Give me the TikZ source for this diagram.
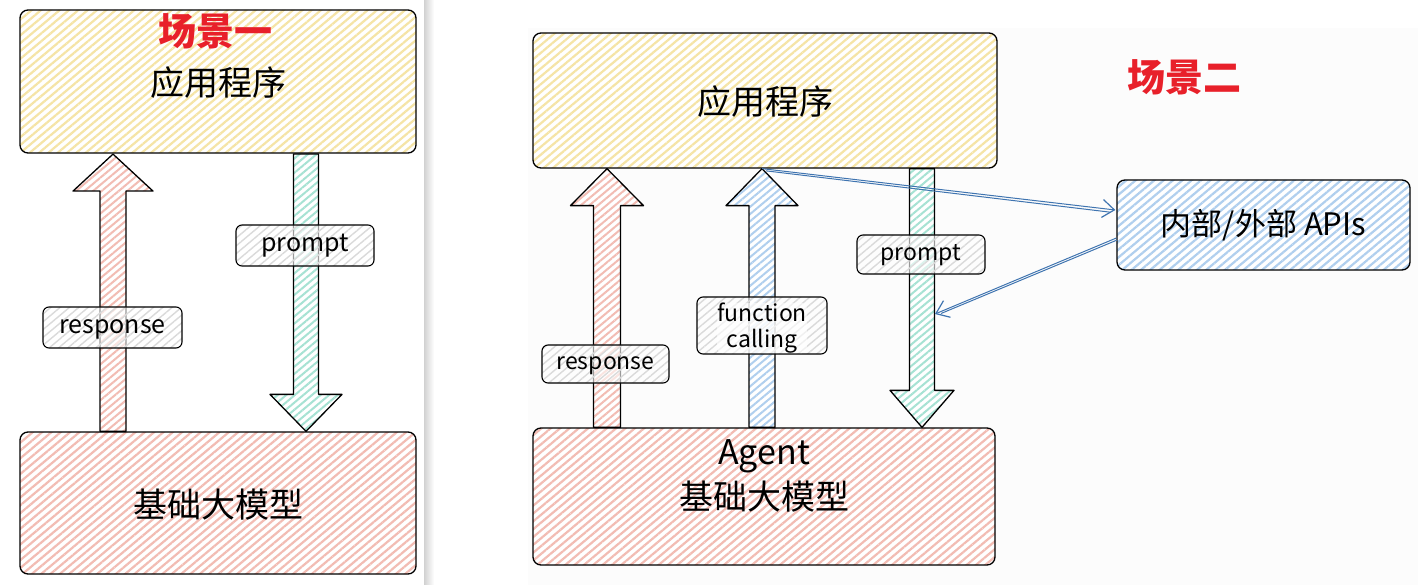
\documentclass[tikz,border=0pt]{standalone}
\usepackage{fontspec}
\setmainfont{Noto Sans CJK SC}
\usetikzlibrary{patterns.meta,arrows.meta,calc}
\definecolor{hyel}{HTML}{F5E4A6}
\definecolor{hred}{HTML}{F2BCB3}
\definecolor{hteal}{HTML}{A6E2D3}
\definecolor{hblue}{HTML}{B0CFEE}
\definecolor{hgrey}{HTML}{DADADA}
\definecolor{cblue}{HTML}{3F74B0}
\definecolor{tred}{HTML}{E8202A}
\newcommand\blkup[6]{%
  \path[blk,#4] let \p1=(#2.south), \p2=(#3.north) in
    (#1-#5,\y2) -- (#1-#5,\y1-37pt) -- (#1-#6,\y1-37pt) -- (#1,\y1)
    -- (#1+#6,\y1-37pt) -- (#1+#5,\y1-37pt) -- (#1+#5,\y2) -- cycle;}
\newcommand\blkdown[6]{%
  \path[blk,#4] let \p1=(#2.south), \p2=(#3.north) in
    (#1-#5,\y1) -- (#1-#5,\y2+37pt) -- (#1-#6,\y2+37pt) -- (#1,\y2)
    -- (#1+#6,\y2+37pt) -- (#1+#5,\y2+37pt) -- (#1+#5,\y1) -- cycle;}
\begin{document}
\begin{tikzpicture}[x=1pt,y=-1pt,
  box/.style={draw=black, line width=1.3pt, rounded corners=8pt, inner sep=0pt,
    preaction={fill=white}, pattern={Lines[angle=40,distance=6pt,line width=2.2pt]}},
  yelbox/.style={box, pattern color=hyel},
  redbox/.style={box, pattern color=hred},
  bluebox/.style={box, pattern color=hblue},
  bigtxt/.style={font=\fontsize{34}{38}\selectfont},
  title/.style={text=tred, font=\fontsize{38}{40}\selectfont\bfseries},
  lab/.style={draw=black, line width=1.1pt, rounded corners=6pt, inner sep=0pt,
    preaction={fill=white, fill opacity=0.6},
    pattern={Lines[angle=40,distance=6pt,line width=1.4pt]}, pattern color=hgrey},
  labL/.style={lab, font=\fontsize{25}{27}\selectfont, text height=18pt, text depth=5.5pt},
  labR/.style={lab, font=\fontsize{23}{26}\selectfont, align=center},
  labS/.style={labR, text height=16.5pt, text depth=5pt},
  blk/.style={draw=black, line width=1.3pt, line join=round,
    preaction={fill=white}, pattern={Lines[angle=40,distance=5.5pt,line width=2pt]}},
  conn/.style={draw=cblue, line width=1pt},
  tip/.style={-{Straight Barb[length=12pt,width=18pt,line width=1.2pt]}}
]
\useasboundingbox (0,0) rectangle (1422,585);
\fill[white] (0,0) rectangle (1422,585);
\fill[black!1.2] (528,28) rectangle (1418,585);
\shade[left color=black!18, right color=white] (424,0) rectangle (434,585);

% ---------- scene 1 ----------
\node[yelbox, minimum width=396pt, minimum height=143pt] (app1) at (218,81.5) {};
\node[bigtxt] (app1t) at (218,83) {应用程序};
\node[redbox, minimum width=396pt, minimum height=142pt] (llm1) at (218,503) {};
\node[bigtxt] (llm1t) at (218,505) {基础大模型};
\node[title] (t1) at (215,31) {场景一};

\blkup{113}{app1}{llm1}{pattern color=hred}{13}{40}
\blkdown{306}{app1}{llm1}{pattern color=hteal}{12.5}{36}

\node[labL, minimum width=138pt, minimum height=41pt] (p1) at (305,245.5) {prompt};
\node[labL, minimum width=139pt, minimum height=41pt] (r1) at (112.5,327.5) {response};

% ---------- scene 2 ----------
\node[yelbox, minimum width=464pt, minimum height=135pt] (app2) at (765,100.5) {};
\node[bigtxt] (app2t) at (765,102) {应用程序};
\node[redbox, minimum width=462pt, minimum height=137pt] (llm2) at (764,496.5) {};
\node[bigtxt] (llm2a) at ($(llm2.center)+(0,-40)$) {Agent};
\node[bigtxt] (llm2t) at ($(llm2.center)+(0,0)$) {基础大模型};
\node[title] (t2) at (1184,77) {场景二};
\node[bluebox, minimum width=293pt, minimum height=90pt,
      font=\fontsize{31}{33}\selectfont] (api) at (1263.5,225) {内部/外部 APIs};

\blkup{607}{app2}{llm2}{pattern color=hred}{13.5}{36.5}
\blkup{762}{app2}{llm2}{pattern color=hblue}{13}{36}
\blkdown{922}{app2}{llm2}{pattern color=hteal}{12.5}{32}

\node[labS, minimum width=128pt, minimum height=39pt] (p2) at (921,254.5) {prompt};
\node[labR, minimum width=130pt, minimum height=57pt] (fc) at (762,325.5) {};
\node[labR, draw=none, pattern=none, preaction={}] (fct) at (762,328) {function\\calling};
\node[labS, minimum width=127pt, minimum height=38pt] (r2) at (605.5,364) {response};

% connectors
\coordinate (fctip) at ($(app2.south)+(-3,0)$);
\coordinate (ptip) at (935,314);
\draw[conn,tip] (fctip) -- ($(api.west)+(-1,-15)$);
\draw[conn] ($(fctip)+(4,2.2)$) -- ($(api.west)+(-6,-12.8)$);
\draw[conn,tip] ($(api.west)+(0,13)$) -- (ptip);
\draw[conn] ($(api.west)+(0.8,15)$) -- ($(ptip)+(6,-0.5)$);
\end{tikzpicture}
\end{document}
